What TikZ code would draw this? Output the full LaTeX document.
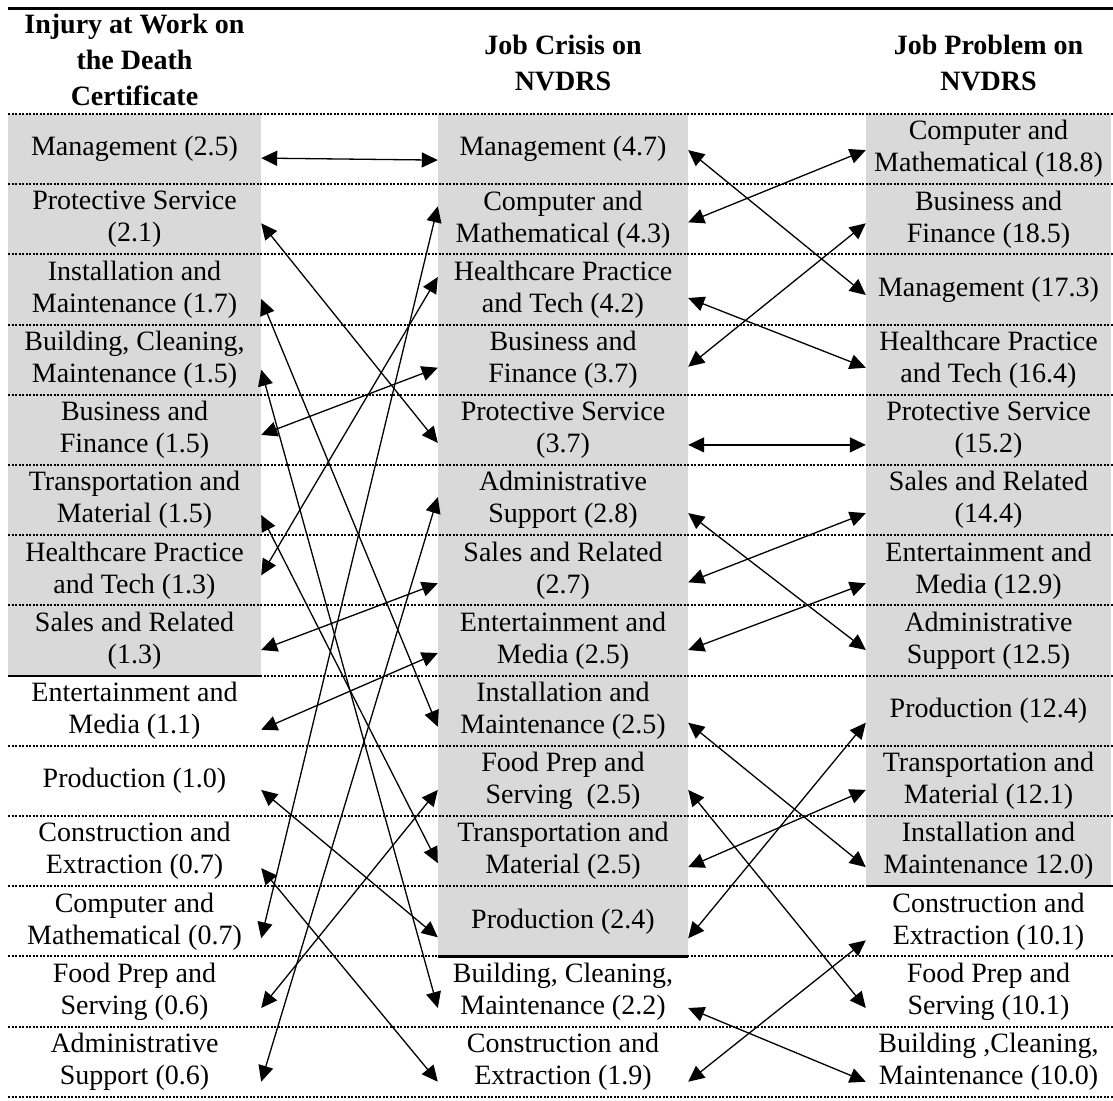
\documentclass[tikz,border=0pt]{standalone}
\usepackage{fontspec}
\setmainfont{Liberation Serif}
\usetikzlibrary{arrows.meta,calc}
\definecolor{cellgray}{RGB}{217,217,217}
\tikzset{
  cell/.style={inner sep=0pt, align=center, minimum height=70.2pt, font=\fontsize{28}{32}\selectfont},
  lc/.style={cell, minimum width=253pt},
  mc/.style={cell, minimum width=250pt},
  rc/.style={cell, minimum width=245pt},
  shaded/.style={fill=cellgray},
  hdr/.style={inner sep=0pt, align=center, font=\fontsize{28}{36}\selectfont\bfseries},
  rowsep/.style={line width=2pt, dash pattern=on 2pt off 1.5pt, color=black},
  solidrule/.style={line width=2.2pt},
  toprule/.style={line width=3pt},
  conn/.style={{Triangle[length=16pt,width=15pt]}-{Triangle[length=16pt,width=15pt]}, line width=1.3pt}
}
\begin{document}
\begin{tikzpicture}[x=1pt,y=-1pt]
\useasboundingbox (0,0) rectangle (1113,1100);
% left column
\node[lc,shaded] (L1) at (134.5,149.1) {Management (2.5)};
\node[lc,shaded] (L2) at (134.5,219.3) {Protective Service\\(2.1)};
\node[lc,shaded] (L3) at (134.5,289.5) {Installation and\\Maintenance (1.7)};
\node[lc,shaded] (L4) at (134.5,359.7) {Building, Cleaning,\\Maintenance (1.5)};
\node[lc,shaded] (L5) at (134.5,429.9) {Business and\\Finance (1.5)};
\node[lc,shaded] (L6) at (134.5,500.1) {Transportation and\\Material (1.5)};
\node[lc,shaded] (L7) at (134.5,570.3) {Healthcare Practice\\and Tech (1.3)};
\node[lc,shaded] (L8) at (134.5,640.5) {Sales and Related\\(1.3)};
\node[lc] (L9) at (134.5,710.7) {Entertainment and\\Media (1.1)};
\node[lc] (L10) at (134.5,780.9) {Production (1.0)};
\node[lc] (L11) at (134.5,851.1) {Construction and\\Extraction (0.7)};
\node[lc] (L12) at (134.5,921.3) {Computer and\\Mathematical (0.7)};
\node[lc] (L13) at (134.5,991.5) {Food Prep and\\Serving (0.6)};
\node[lc] (L14) at (134.5,1061.7) {Administrative\\Support (0.6)};
% middle column
\node[mc,shaded] (M1) at (563,149.1) {Management (4.7)};
\node[mc,shaded] (M2) at (563,219.3) {Computer and\\Mathematical (4.3)};
\node[mc,shaded] (M3) at (563,289.5) {Healthcare Practice\\and Tech (4.2)};
\node[mc,shaded] (M4) at (563,359.7) {Business and\\Finance (3.7)};
\node[mc,shaded] (M5) at (563,429.9) {Protective Service\\(3.7)};
\node[mc,shaded] (M6) at (563,500.1) {Administrative\\Support (2.8)};
\node[mc,shaded] (M7) at (563,570.3) {Sales and Related\\(2.7)};
\node[mc,shaded] (M8) at (563,640.5) {Entertainment and\\Media (2.5)};
\node[mc,shaded] (M9) at (563,710.7) {Installation and\\Maintenance (2.5)};
\node[mc,shaded] (M10) at (563,780.9) {Food Prep and\\Serving\ \ (2.5)};
\node[mc,shaded] (M11) at (563,851.1) {Transportation and\\Material (2.5)};
\node[mc,shaded] (M12) at (563,921.3) {Production (2.4)};
\node[mc] (M13) at (563,991.5) {Building, Cleaning,\\Maintenance (2.2)};
\node[mc] (M14) at (563,1061.7) {Construction and\\Extraction (1.9)};
% right column
\node[rc,shaded] (R1) at (988.5,149.1) {Computer and\\Mathematical (18.8)};
\node[rc,shaded] (R2) at (988.5,219.3) {Business and\\Finance (18.5)};
\node[rc,shaded] (R3) at (988.5,289.5) {Management (17.3)};
\node[rc,shaded] (R4) at (988.5,359.7) {Healthcare Practice\\and Tech (16.4)};
\node[rc,shaded] (R5) at (988.5,429.9) {Protective Service\\(15.2)};
\node[rc,shaded] (R6) at (988.5,500.1) {Sales and Related\\(14.4)};
\node[rc,shaded] (R7) at (988.5,570.3) {Entertainment and\\Media (12.9)};
\node[rc,shaded] (R8) at (988.5,640.5) {Administrative\\Support (12.5)};
\node[rc,shaded] (R9) at (988.5,710.7) {Production (12.4)};
\node[rc,shaded] (R10) at (988.5,780.9) {Transportation and\\Material (12.1)};
\node[rc,shaded] (R11) at (988.5,851.1) {Installation and\\Maintenance 12.0)};
\node[rc] (R12) at (988.5,921.3) {Construction and\\Extraction (10.1)};
\node[rc] (R13) at (988.5,991.5) {Food Prep and\\Serving (10.1)};
\node[rc] (R14) at (988.5,1061.7) {Building ,Cleaning,\\Maintenance (10.0)};
% headers
\node[hdr] (H1) at (134.5,60) {Injury at Work on\\the Death\\Certificate};
\node[hdr] (H2) at (563,63) {Job Crisis on\\NVDRS};
\node[hdr] (H3) at (988.5,63) {Job Problem on\\NVDRS};
% table rules
\draw[toprule] (8,8.5) -- (1113,8.5);
\foreach \k in {0,...,14} \draw[rowsep] (8,{114+70.2*\k}) -- (1113,{114+70.2*\k});
\draw[solidrule] (8,675.6) -- (261,675.6);
\draw[solidrule] (438,956.4) -- (688,956.4);
\draw[solidrule] (866,886.2) -- (1111,886.2);
% connectors left-middle
\foreach \a/\da/\b/\db in {L1/9/M1/11, L2/4/M5/13, L3/9.5/M9/16, L4/10/M13/16.5,
  L5/5/M4/8, L6/15/M11/12, L7/5/M3/-12.5, L8/9.5/M7/13, L9/19/M8/12.5,
  L10/9/M12/16, L11/17/M14/20, L12/17/M2/-13, L13/16.5/M10/9, L14/20/M6/-3}
  \draw[conn] ($(\a.east)+(0,\da)$) -- ($(\b.west)+(0,\db)$);
% connectors middle-right
\foreach \a/\da/\b/\db in {M1/1/R3/5.5, M2/3/R1/1, M3/8.5/R4/8, M4/7/R2/4,
  M5/15/R5/15, M6/13/R8/9.5, M7/12/R6/13, M8/9.5/R7/13, M9/12/R11/16,
  M10/9/R13/16.5, M11/16/R10/9, M12/17/R9/12, M13/16.5/R14/20, M14/20/R12/19}
  \draw[conn] ($(\a.east)+(0,\da)$) -- ($(\b.west)+(0,\db)$);
\end{tikzpicture}
\end{document}
